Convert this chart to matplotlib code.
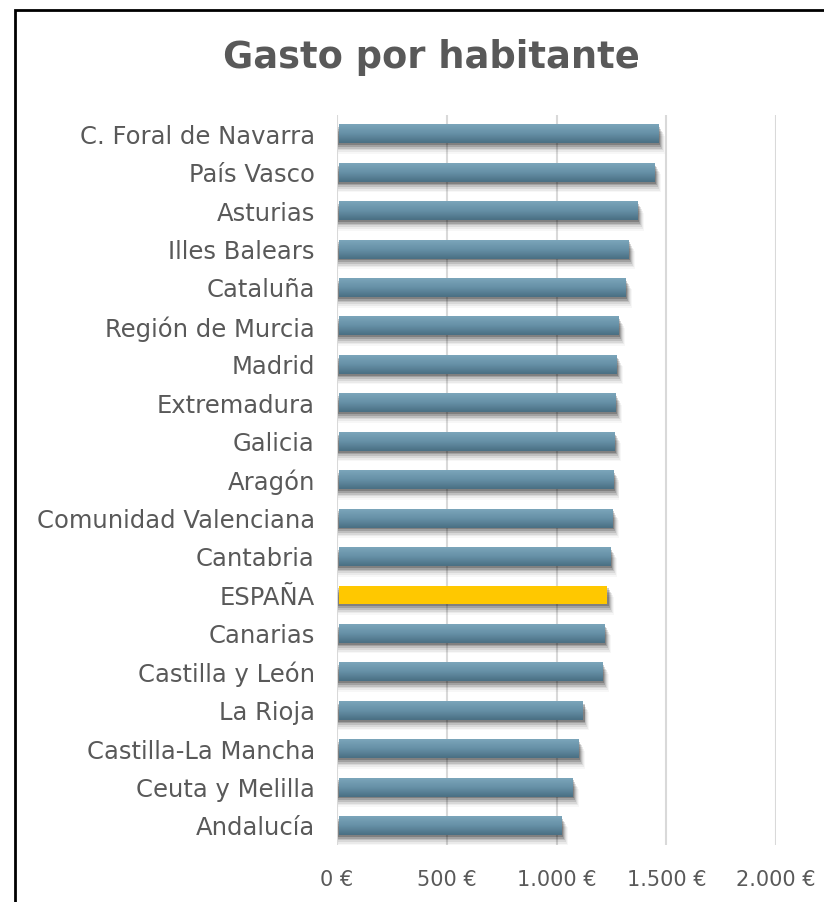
import numpy as np
import matplotlib.pyplot as plt
from matplotlib.patches import Rectangle
from matplotlib.ticker import FuncFormatter
from matplotlib.colors import LinearSegmentedColormap

# datos (euros por habitante)
regiones = ['C. Foral de Navarra', 'País Vasco', 'Asturias', 'Illes Balears',
            'Cataluña', 'Región de Murcia', 'Madrid', 'Extremadura', 'Galicia',
            'Aragón', 'Comunidad Valenciana', 'Cantabria', 'ESPAÑA', 'Canarias',
            'Castilla y León', 'La Rioja', 'Castilla-La Mancha', 'Ceuta y Melilla',
            'Andalucía']
gasto = [1462, 1444, 1367, 1326, 1312, 1280, 1271, 1267, 1261, 1256,
         1252, 1244, 1230, 1217, 1208, 1117, 1098, 1071, 1021]
ticks = [0, 500, 1000, 1500, 2000]

gris = '#595959'
h = 0.47

fig = plt.figure(figsize=(8.24, 9.02), dpi=100)
ax = fig.add_axes([0.409, 0.063, 0.533, 0.8095])

# degradado azul de las barras
grad = np.linspace(0, 1, 64).reshape(-1, 1)
cmap = LinearSegmentedColormap.from_list('azul', ['#7ba5ba', '#6690a6', '#4a6f83'])

y = np.arange(len(regiones))
for i, (r, v) in enumerate(zip(regiones, gasto)):
    # sombra difusa
    for k, a in enumerate([0.20, 0.15, 0.11, 0.08, 0.05, 0.03]):
        off = 0.05 + 0.045 * k
        ax.add_patch(Rectangle((6, i - h / 2 + off), v + 4 + 4 * k, h,
                               facecolor='black', edgecolor='none', alpha=a, zorder=2))
    if r == 'ESPAÑA':
        ax.barh(i, v - 8, height=h, color='#ffc800', left=8, zorder=3)
    else:
        ax.imshow(grad, cmap=cmap, aspect='auto', extent=(8, v, i + h / 2, i - h / 2),
                  origin='upper', zorder=3, interpolation='bilinear')

ax.set_xlim(0, 2000)
ax.set_ylim(len(regiones) - 0.5, -0.5)
ax.set_xticks(ticks)
ax.xaxis.set_major_formatter(FuncFormatter(lambda v, p: f'{int(v):,} €'.replace(',', '.')))
ax.set_yticks(y)
ax.set_yticklabels(regiones)
ax.tick_params(axis='both', length=0, colors=gris)
ax.tick_params(axis='y', pad=16, labelsize=17.5)
ax.tick_params(axis='x', pad=18, labelsize=15)
ax.grid(axis='x', color='#d9d9d9', linewidth=1.5, zorder=0)
ax.set_axisbelow(True)
for s in ax.spines.values():
    s.set_visible(False)

fig.text(0.523, 0.936, 'Gasto por habitante', ha='center', va='center',
         fontsize=26.5, fontweight='bold', color=gris)

# marco del grafico
fig.patches.append(Rectangle((0.018, -0.1), 1.2, 1.089, transform=fig.transFigure,
                             fill=False, edgecolor='black', linewidth=2))

fig.savefig('out.png', dpi=100)
